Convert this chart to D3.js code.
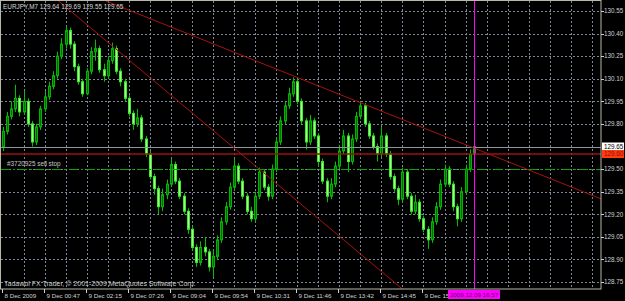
<!DOCTYPE html>
<html>
<head>
<meta charset="utf-8">
<script src="https://cdn.jsdelivr.net/npm/d3@7/dist/d3.min.js"></script>
<style>
  body { margin: 0; background: #000; }
  svg text { font-family: "Liberation Sans", Arial, sans-serif; }
</style>
</head>
<body>
<svg id="chart" width="625" height="301"></svg>
<script>
// chart header and annotations
const header = "EURJPY,M7 129.64 129.69 129.55 129.65";
const copyright = "Tadawul FX Trader, \u00a9 2001-2009 MetaQuotes Software Corp.";
const orderLabel = "#3720925 sell stop";

// bars (open of each bar = previous close)
const firstOpen = 129.65;
const closes = [
  129.75, 129.85, 129.90, 129.97, 129.88, 129.95, 129.80, 129.68, 129.78, 129.90,
  129.98, 130.05, 130.12, 130.25, 130.33, 130.42, 130.33, 130.18, 130.08, 130.00,
  130.15, 130.28, 130.30, 130.16, 130.12, 130.22, 130.30, 130.15, 130.08, 129.97,
  129.87, 129.80, 129.84, 129.70, 129.60, 129.45, 129.37, 129.25, 129.33, 129.40,
  129.53, 129.42, 129.32, 129.22, 129.10, 128.98, 128.88, 128.98, 128.95, 128.85,
  128.92, 129.03, 129.15, 129.25, 129.38, 129.52, 129.42, 129.32, 129.22, 129.17,
  129.32, 129.48, 129.38, 129.32, 129.50, 129.68, 129.82, 129.92, 130.00, 130.08,
  129.95, 129.82, 129.68, 129.82, 129.72, 129.55, 129.42, 129.32, 129.40, 129.52,
  129.62, 129.72, 129.55, 129.70, 129.85, 129.92, 129.80, 129.72, 129.65, 129.60,
  129.72, 129.60, 129.45, 129.37, 129.30, 129.48, 129.32, 129.22, 129.28, 129.17,
  129.10, 129.03, 129.15, 129.25, 129.40, 129.50, 129.40, 129.25, 129.17, 129.35,
  129.50, 129.60, 129.65
];
const highs = [
  129.78, 129.88, 129.95, 130.06, 129.99, 130.02, 129.97, 129.82, 129.80, 129.92,
  130.02, 130.08, 130.15, 130.28, 130.37, 130.45, 130.44, 130.35, 130.20, 130.10,
  130.17, 130.31, 130.36, 130.32, 130.20, 130.25, 130.34, 130.32, 130.17, 130.10,
  129.99, 129.89, 129.90, 129.86, 129.72, 129.62, 129.47, 129.39, 129.37, 129.43,
  129.57, 129.55, 129.44, 129.34, 129.24, 129.12, 129.00, 129.02, 129.05, 128.97,
  128.96, 129.06, 129.18, 129.28, 129.41, 129.57, 129.54, 129.44, 129.34, 129.25,
  129.35, 129.51, 129.50, 129.40, 129.53, 129.71, 129.85, 129.95, 130.04, 130.11,
  130.10, 129.97, 129.84, 129.86, 129.84, 129.74, 129.57, 129.44, 129.44, 129.55,
  129.66, 129.76, 129.74, 129.73, 129.88, 129.95, 129.94, 129.82, 129.74, 129.67,
  129.78, 129.74, 129.62, 129.47, 129.39, 129.51, 129.50, 129.34, 129.33, 129.30,
  129.19, 129.12, 129.18, 129.28, 129.43, 129.53, 129.52, 129.42, 129.27, 129.38,
  129.53, 129.63, 129.69
];
const lows = [
  129.62, 129.73, 129.83, 129.88, 129.85, 129.86, 129.78, 129.65, 129.66, 129.76,
  129.88, 129.96, 130.03, 130.10, 130.23, 130.30, 130.30, 130.15, 130.06, 129.98,
  129.99, 130.13, 130.22, 130.14, 130.08, 130.10, 130.20, 130.13, 130.05, 129.95,
  129.85, 129.76, 129.78, 129.68, 129.58, 129.43, 129.33, 129.20, 129.22, 129.30,
  129.38, 129.40, 129.30, 129.20, 129.07, 128.96, 128.85, 128.86, 128.92, 128.82,
  128.78, 128.90, 129.01, 129.13, 129.23, 129.36, 129.40, 129.30, 129.20, 129.15,
  129.15, 129.30, 129.36, 129.29, 129.30, 129.48, 129.66, 129.80, 129.90, 129.98,
  129.93, 129.80, 129.63, 129.66, 129.70, 129.52, 129.40, 129.28, 129.30, 129.38,
  129.50, 129.60, 129.48, 129.53, 129.68, 129.83, 129.78, 129.70, 129.63, 129.55,
  129.58, 129.58, 129.43, 129.35, 129.26, 129.28, 129.30, 129.20, 129.20, 129.15,
  129.08, 128.97, 129.01, 129.13, 129.23, 129.38, 129.38, 129.22, 129.12, 129.15,
  129.33, 129.48, 129.55
];

// axes
const priceTicks = [130.55, 130.40, 130.25, 130.10, 129.95, 129.80, 129.65,
                    129.50, 129.35, 129.20, 129.05, 128.90, 128.75];
// last label is cut off by the vertical line's time box
const timeLabels = ["8 Dec 2009", "9 Dec 00:47", "9 Dec 02:15", "9 Dec 07:26",
                    "9 Dec 09:04", "9 Dec 09:54", "9 Dec 10:31", "9 Dec 11:46",
                    "9 Dec 13:42", "9 Dec 14:45", "9 Dec 15"];
const timeLabelBars = [0, 10, 20, 30, 40, 50, 60, 70, 80, 90, 100];

// chart objects
const bidPrice = 129.65;
const levelPrice = 129.60;
const stopPrice = 129.50;
const trendUpper = [[35, 130.50], [69, 130.12]];
const trendLower = [[20, 130.46], [90, 128.82]];
const vLineBar = 112;
const vLineLabel = "2009.12.09 16:57";

const svg = d3.select("#chart");
const W = 625, H = 301;
const plotR = 601, plotB = 289;

svg.append("rect").attr("width", W).attr("height", H).attr("fill", "#000");

const x = d3.scaleLinear().domain([0, 112]).range([2.5, 474]);
const y = d3.scaleLinear().domain([128.75, 130.55]).range([282, 11]);

svg.append("clipPath").attr("id", "plot")
  .append("rect").attr("x", 1).attr("y", 1).attr("width", plotR - 1).attr("height", plotB - 1);

const plot = svg.append("g").attr("clip-path", "url(#plot)");

// grid
const gridCol = "#7a8898";
plot.selectAll(".hgrid").data(priceTicks).enter().append("line")
  .attr("x1", 1).attr("x2", plotR)
  .attr("y1", d => Math.round(y(d)) + 0.5).attr("y2", d => Math.round(y(d)) + 0.5)
  .attr("stroke", gridCol).attr("stroke-dasharray", "2,2");
plot.selectAll(".vgrid").data(d3.range(5, 145, 5)).enter().append("line")
  .attr("x1", d => Math.round(x(d)) + 0.5).attr("x2", d => Math.round(x(d)) + 0.5)
  .attr("y1", 1).attr("y2", plotB)
  .attr("stroke", gridCol).attr("stroke-dasharray", "2,2");

// candles
const bars = closes.map((c, i) => ({
  i: i, o: i === 0 ? firstOpen : closes[i - 1], h: highs[i], l: lows[i], c: c
}));
const candle = plot.selectAll(".bar").data(bars).enter().append("g");
candle.append("line")
  .attr("x1", d => Math.round(x(d.i)) + 0.5).attr("x2", d => Math.round(x(d.i)) + 0.5)
  .attr("y1", d => y(d.h)).attr("y2", d => y(d.l))
  .attr("stroke", "#00c000");
candle.append("rect")
  .attr("x", d => Math.round(x(d.i)) - 0.5)
  .attr("width", 2)
  .attr("y", d => y(Math.max(d.o, d.c)))
  .attr("height", d => Math.max(1, y(Math.min(d.o, d.c)) - y(Math.max(d.o, d.c))))
  .attr("fill", d => d.c >= d.o ? "#006a00" : "#a8ff90")
  .attr("stroke", d => d.c >= d.o ? "#00b400" : "#3cee2c")
  .attr("stroke-width", 1);

// horizontal lines
plot.append("line").attr("x1", 1).attr("x2", plotR)
  .attr("y1", Math.round(y(bidPrice)) + 0.5).attr("y2", Math.round(y(bidPrice)) + 0.5)
  .attr("stroke", "#8c96a0");
plot.append("line").attr("x1", 1).attr("x2", plotR)
  .attr("y1", y(levelPrice)).attr("y2", y(levelPrice))
  .attr("stroke", "#9a1010").attr("stroke-width", 1.6);
plot.append("line").attr("x1", 1).attr("x2", plotR)
  .attr("y1", Math.round(y(stopPrice)) + 0.5).attr("y2", Math.round(y(stopPrice)) + 0.5)
  .attr("stroke", "#00a800").attr("stroke-dasharray", "9,3,2,3");
plot.append("text").attr("x", 7).attr("y", y(stopPrice) - 3)
  .attr("font-size", 6.4).attr("fill", "#c8c8c8").text(orderLabel);

// trendlines, extended across the plot
function trend(pts) {
  const [[b1, p1], [b2, p2]] = pts;
  const k = (p2 - p1) / (b2 - b1);
  const bA = -20, bB = 160;
  plot.append("line")
    .attr("x1", x(bA)).attr("y1", y(p1 + k * (bA - b1)))
    .attr("x2", x(bB)).attr("y2", y(p1 + k * (bB - b1)))
    .attr("stroke", "#a81010").attr("stroke-width", 1);
}
trend(trendUpper);
trend(trendLower);

// vertical line
plot.append("line")
  .attr("x1", Math.round(x(vLineBar)) + 0.5).attr("x2", Math.round(x(vLineBar)) + 0.5)
  .attr("y1", 1).attr("y2", plotB)
  .attr("stroke", "#ff00ff");

// header and copyright
svg.append("text").attr("x", 3).attr("y", 9).attr("font-size", 6.4)
  .attr("fill", "#d8d8d8").text(header);
svg.append("text").attr("x", 4).attr("y", 286).attr("font-size", 7)
  .attr("fill", "#c8c8c8").text(copyright);

// frame
svg.append("rect").attr("x", 0.5).attr("y", 0.5).attr("width", plotR - 0.5).attr("height", plotB - 0.5)
  .attr("fill", "none").attr("stroke", "#b8b8a8");

// price axis
const axisCol = "#d0d0d0";
priceTicks.filter(p => p !== bidPrice).forEach(p => {
  svg.append("line").attr("x1", plotR).attr("x2", plotR + 3)
    .attr("y1", Math.round(y(p)) + 0.5).attr("y2", Math.round(y(p)) + 0.5).attr("stroke", axisCol);
  svg.append("text").attr("x", 604).attr("y", y(p) + 2.3).attr("font-size", 6.3)
    .attr("fill", axisCol).text(p.toFixed(2));
});
function priceBox(p, bg, fg) {
  svg.append("rect").attr("x", plotR + 1).attr("y", y(p) - 4).attr("width", 22).attr("height", 8)
    .attr("fill", bg);
  svg.append("text").attr("x", 604).attr("y", y(p) + 2.3).attr("font-size", 6.3)
    .attr("fill", fg).text(p.toFixed(2));
}
priceBox(bidPrice, "#ffffff", "#000000");
priceBox(levelPrice, "#ff3c10", "#8a1000");

// time axis
timeLabelBars.forEach((b, k) => {
  const tx = Math.round(x(b)) - 0.5;
  svg.append("line").attr("x1", tx).attr("x2", tx).attr("y1", plotB).attr("y2", plotB + 4)
    .attr("stroke", axisCol);
  svg.append("text").attr("x", tx + 2).attr("y", 297.5).attr("font-size", 6.2)
    .attr("fill", axisCol).text(timeLabels[k]);
});
const vx = x(vLineBar);
svg.append("rect").attr("x", vx - 26).attr("y", 290).attr("width", 52).attr("height", 9)
  .attr("fill", "#ff00ff");
svg.append("text").attr("x", vx).attr("y", 297.3).attr("text-anchor", "middle")
  .attr("font-size", 6.2).attr("fill", "#5a005a").text(vLineLabel);
</script>
</body>
</html>
